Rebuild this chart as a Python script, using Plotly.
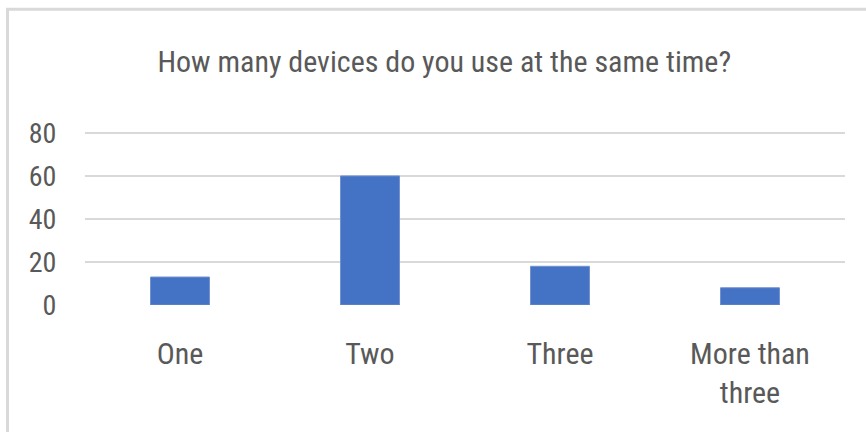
import plotly.graph_objects as go

# Survey answers: number of devices used simultaneously
categories = ["One", "Two", "Three", "More than<br>three"]
responses = [13, 60, 18, 8]
y_ticks = [0, 20, 40, 60, 80]

FONT = "Liberation Sans Narrow, Roboto Condensed, Arial Narrow, sans-serif"
TEXT_GREY = "#595959"
GRID_GREY = "#d9d9d9"
BAR_BLUE = "#4472C4"

fig = go.Figure(
    go.Bar(
        x=categories,
        y=responses,
        marker=dict(color=BAR_BLUE, line=dict(color="#6f8fd0", width=1)),
        hoverinfo="x+y",
    )
)

fig.update_layout(
    width=866,
    height=432,
    margin=dict(l=85, r=21, t=131, b=127),
    paper_bgcolor="white",
    plot_bgcolor="white",
    bargap=0.69,
    showlegend=False,
    title=dict(
        text="How many devices do you use at the same time?",
        x=0.513,
        xref="container",
        xanchor="center",
        y=0.857,
        yref="container",
        yanchor="middle",
        font=dict(family=FONT, size=30, color=TEXT_GREY),
    ),
    font=dict(family=FONT, color=TEXT_GREY),
)

fig.update_xaxes(
    showgrid=False,
    showline=False,
    ticks="outside",
    ticklen=0,
    ticklabelstandoff=22,
    tickfont=dict(family=FONT, size=30, color=TEXT_GREY),
)

fig.update_yaxes(
    range=[0, 80.9],
    tickvals=y_ticks,
    showgrid=True,
    gridcolor=GRID_GREY,
    gridwidth=2,
    zeroline=False,
    showline=False,
    ticks="outside",
    ticklen=0,
    ticklabelstandoff=22,
    tickfont=dict(family=FONT, size=28, color=TEXT_GREY),
)

# Outer chart frame (light grey border running past the right and bottom edges)
fig.add_shape(
    type="rect",
    xref="paper",
    yref="paper",
    x0=-0.102,
    x1=1.3,
    y0=-1.0,
    y1=1.70,
    line=dict(color=GRID_GREY, width=3),
    fillcolor="rgba(0,0,0,0)",
    layer="below",
)

fig.write_html("out.html")
